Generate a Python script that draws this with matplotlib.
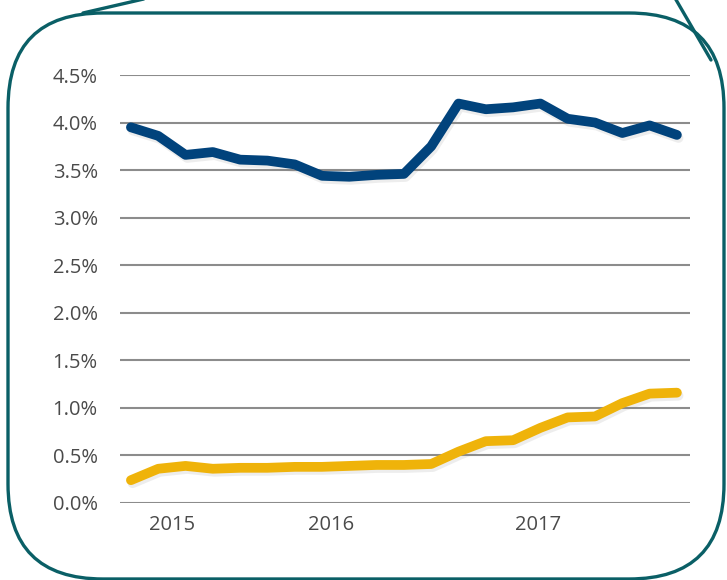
import matplotlib
matplotlib.use("Agg")
import matplotlib.pyplot as plt
import matplotlib.patheffects as pe
from matplotlib.patches import FancyBboxPatch
from matplotlib.lines import Line2D

# Quarterly-ish observations, 2015-2017 (percent)
periods = list(range(21))
blue_series = [3.95, 3.86, 3.66, 3.69, 3.61, 3.60, 3.56, 3.44, 3.43, 3.45, 3.46,
               3.75, 4.20, 4.14, 4.16, 4.20, 4.04, 4.00, 3.89, 3.97, 3.87]
gold_series = [0.24, 0.36, 0.39, 0.36, 0.37, 0.37, 0.38, 0.38, 0.39, 0.40, 0.40,
               0.41, 0.54, 0.65, 0.66, 0.79, 0.90, 0.91, 1.05, 1.15, 1.16]
y_ticks = [0.0, 0.5, 1.0, 1.5, 2.0, 2.5, 3.0, 3.5, 4.0, 4.5]
year_labels = ["2015", "2016", "2017"]
year_positions = [1.5, 7.33, 14.9]

W, H = 727, 580
fig = plt.figure(figsize=(W / 100, H / 100), dpi=100)
fig.patch.set_facecolor("white")

font = "Open Sans"
text_color = "#4a4a4a"
tick_font = dict(fontfamily=font, fontsize=14.5, fontweight="normal", color=text_color)

ax = fig.add_axes([120 / W, 1 - 503 / H, 570 / W, 428 / H])
ax.set_xlim(-0.4, 20.48)
ax.set_ylim(0, 4.5)
for s in ax.spines.values():
    s.set_visible(False)
ax.set_yticks(y_ticks)
ax.set_yticklabels([f"{v:.1f}%" for v in y_ticks], **tick_font)
ax.set_xticks(year_positions)
ax.set_xticklabels(year_labels, **tick_font)
ax.tick_params(axis="y", length=0, pad=16)
ax.tick_params(axis="x", length=0, pad=9)
ax.yaxis.grid(True, color="#8c8c8c", linewidth=1.5)
ax.set_axisbelow(True)

shadow = [pe.SimpleLineShadow(offset=(1.2, -2.2), shadow_color="#8a8a8a", alpha=0.15),
          pe.Normal()]
ax.plot(periods, blue_series, color="#01437c", linewidth=7,
        solid_capstyle="round", solid_joinstyle="round",
        path_effects=shadow, clip_on=False, zorder=3)
ax.plot(periods, gold_series, color="#efb30a", linewidth=7,
        solid_capstyle="round", solid_joinstyle="round",
        path_effects=shadow, clip_on=False, zorder=3)

# Rounded callout frame in pixel coordinates
frame = fig.add_axes([0, 0, 1, 1], facecolor="none")
frame.set_xlim(0, W)
frame.set_ylim(H, 0)
frame.axis("off")
teal = "#0a5f66"
box = FancyBboxPatch((8, 13), 716, 566,
                     boxstyle="round,pad=0,rounding_size=95",
                     fill=False, edgecolor=teal, linewidth=2.4)
frame.add_patch(box)
frame.add_line(Line2D([83, 148], [13, -2], color=teal, linewidth=2.4,
                      solid_capstyle="round"))
frame.add_line(Line2D([675, 711], [-2, 60], color=teal, linewidth=2.4,
                      solid_capstyle="round"))

fig.savefig("out.png", dpi=100)
